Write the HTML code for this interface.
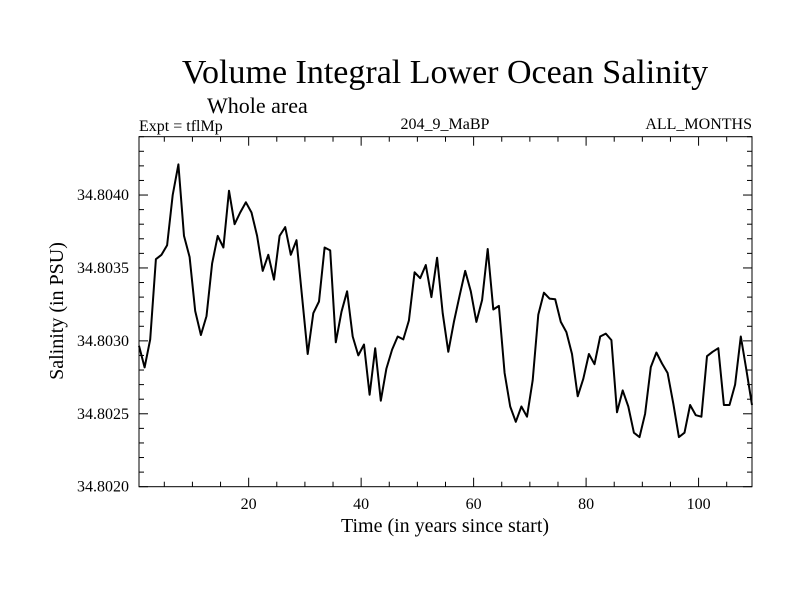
<!DOCTYPE html>
<html><head><meta charset="utf-8"><style>
html,body{margin:0;padding:0;background:#fff;}
svg{display:block;font-family:"Liberation Serif",serif;}
</style></head><body>
<svg id="chart" width="800" height="600" viewBox="0 0 800 600">
<text x="445" y="83" font-size="34" text-anchor="middle">Volume Integral Lower Ocean Salinity</text>
<text x="207" y="113" font-size="22">Whole area</text>
<text x="139" y="131" font-size="16">Expt = tflMp</text>
<text x="445" y="129" font-size="16" text-anchor="middle">204_9_MaBP</text>
<text x="752" y="129" font-size="16" text-anchor="end">ALL_MONTHS</text>
<text x="0" y="0" font-size="20" text-anchor="middle" transform="translate(63,311) rotate(-90)">Salinity (in PSU)</text>
<text x="445" y="532" font-size="20" text-anchor="middle">Time (in years since start)</text>
<g id="axes"></g>
<path id="line" fill="none" stroke="#000" stroke-width="2" stroke-linejoin="round"/>
<rect x="139" y="136.7" width="613" height="350" fill="none" stroke="#000" stroke-width="1"/>
</svg>
<script>
const xTicks=[20,40,60,80,100];
const yTicks=[34.8020,34.8025,34.8030,34.8035,34.8040];
const yTickLabels=["34.8020","34.8025","34.8030","34.8035","34.8040"];
const salinityOffsets=[9.66,8.18,10.1,15.6,15.9,16.55,20.0,22.1,17.2,15.75,12.05,10.4,11.7,15.3,17.2,16.4,20.3,18.0,18.8,19.5,18.8,17.2,14.8,15.9,14.2,17.2,17.8,15.9,16.9,13.0,9.1,11.9,12.7,16.4,16.2,9.9,12.0,13.4,10.3,9.0,9.75,6.3,9.5,5.9,8.1,9.4,10.3,10.1,11.4,14.7,14.3,15.2,13.0,15.7,11.9,9.25,11.3,13.1,14.8,13.4,11.3,12.8,16.3,12.15,12.4,7.8,5.5,4.45,5.5,4.8,7.3,11.8,13.3,12.9,12.85,11.3,10.6,9.1,6.2,7.4,9.1,8.4,10.3,10.5,10.05,5.1,6.6,5.5,3.7,3.4,5.0,8.2,9.2,8.45,7.8,5.7,3.4,3.7,5.6,4.9,4.8,8.95,9.25,9.5,5.6,5.6,7.0,10.3,8.0,5.6];
const L=139,R=752,T=136.7,B=486.7;
const X0=0.5,X1=109.5,Y0=34.8020,Y1=34.8044;
const sx=v=>L+(v-X0)/(X1-X0)*(R-L);
const sy=v=>B-(v-Y0)/(Y1-Y0)*(B-T);
const NS='http://www.w3.org/2000/svg';
const g=document.getElementById('axes');
function ln(x1,y1,x2,y2,name){const e=document.createElementNS(NS,'line');e.setAttribute('x1',x1);e.setAttribute('y1',y1);e.setAttribute('x2',x2);e.setAttribute('y2',y2);e.setAttribute('stroke','#000');e.setAttribute('stroke-width','1');


g.appendChild(e);}
function tx(x,y,s,anchor,name){const e=document.createElementNS(NS,'text');e.setAttribute('x',x);e.setAttribute('y',y);e.setAttribute('font-size','16');e.setAttribute('text-anchor',anchor);e.textContent=s;


g.appendChild(e);}
for(let v=5;v<=X1;v+=5){const x=sx(v);const major=v%20===0;const len=major?9:5;ln(x,B,x,B-len,'x-tick');ln(x,T,x,T+len,'x-tick-top');}
xTicks.forEach(v=>tx(sx(v),509,String(v),'middle','x-tick-label'));
for(let k=0;k<=24;k++){const v=Y0+k*0.0001;const y=sy(v);const major=k%5===0;const len=major?9:5;ln(L,y,L+len,y,'y-tick');ln(R,y,R-len,y,'y-tick-right');}
yTicks.forEach((v,i)=>tx(129,sy(v)+5,yTickLabels[i],'end','y-tick-label'));
let d='';
salinityOffsets.forEach((o,i)=>{const x=sx(X0+i*(X1-X0)/(salinityOffsets.length-1));const y=sy(Y0+o*1e-4);d+=(i?'L':'M')+x.toFixed(1)+','+y.toFixed(1);});
document.getElementById('line').setAttribute('d',d);
</script>
</body></html>
